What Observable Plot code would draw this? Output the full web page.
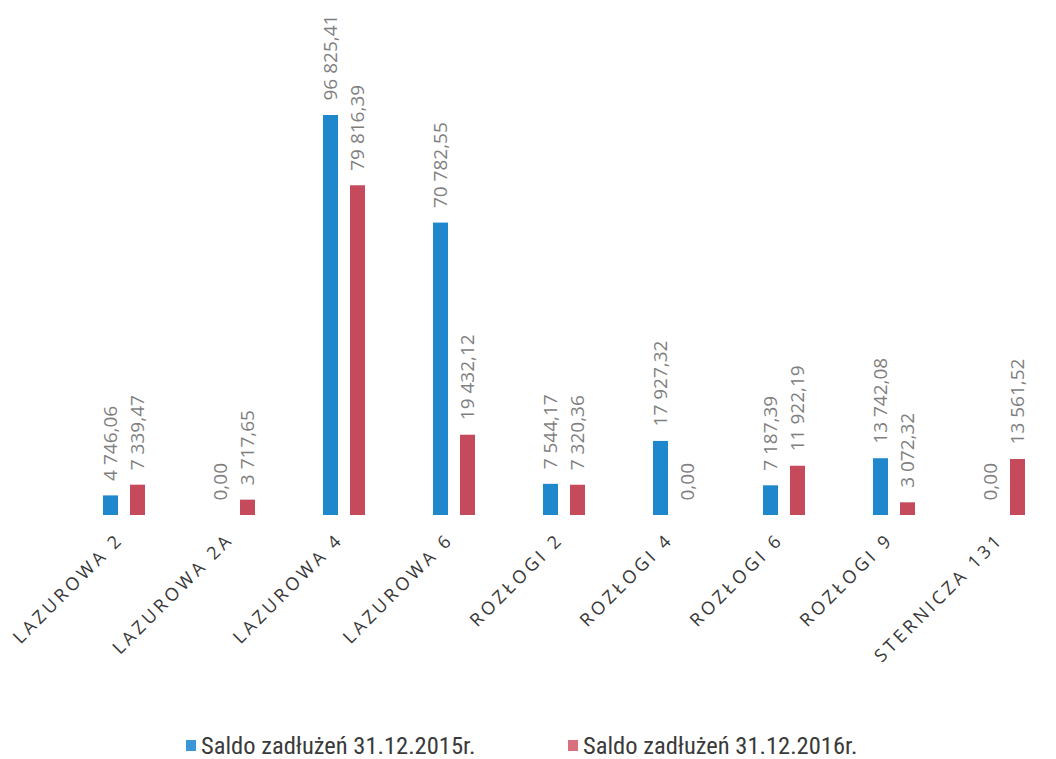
<!DOCTYPE html>
<html>
<head>
<meta charset="utf-8">
<script src="https://cdn.jsdelivr.net/npm/d3@7"></script>
<script src="https://cdn.jsdelivr.net/npm/@observablehq/plot@0.6"></script>
<style>
  html, body { margin: 0; padding: 0; background: #fff; }
  #chart { position: relative; width: 1056px; height: 759px; }
  .legend { position: absolute; top: 731px; left: 0; width: 1056px; height: 28px;
            font-family: "Liberation Sans Narrow", "Roboto Condensed", "Open Sans", sans-serif;
            font-size: 24.5px; color: #3a3a3a; }
  .legend .item { position: absolute; top: 0; display: flex; align-items: center; white-space: nowrap; }
  .legend .sw { width: 10px; height: 11px; margin-right: 5px; display: inline-block; }
</style>
</head>
<body>
<div id="chart"></div>
<script>
const categories = ["LAZUROWA 2", "LAZUROWA 2A", "LAZUROWA 4", "LAZUROWA 6", "ROZŁOGI 2", "ROZŁOGI 4", "ROZŁOGI 6", "ROZŁOGI 9", "STERNICZA 131"];
const seriesNames = ["Saldo zadłużeń 31.12.2015r.", "Saldo zadłużeń 31.12.2016r."];
const values2015 = [4746.06, 0.00, 96825.41, 70782.55, 7544.17, 17927.32, 7187.39, 13742.08, 0.00];
const values2016 = [7339.47, 3717.65, 79816.39, 19432.12, 7320.36, 0.00, 11922.19, 3072.32, 13561.52];
const barColors = ["#1f87cb", "#c44a5c"];
const legendColors = ["#3a96d8", "#d8707e"];

const data = [];
categories.forEach((c, i) => {
  data.push({cat: c, series: seriesNames[0], value: values2015[i]});
  data.push({cat: c, series: seriesNames[1], value: values2016[i]});
});

const fmt = v => {
  const [intPart, dec] = v.toFixed(2).split(".");
  const withSpaces = intPart.replace(/\B(?=(\d{3})+(?!\d))/g, " ");
  return withSpaces + "," + dec;
};

const chart = Plot.plot({
  width: 1056,
  height: 710,
  marginLeft: 69,
  marginRight: -3,
  marginTop: 115,
  marginBottom: 195,
  style: {fontFamily: "'Open Sans', sans-serif", background: "transparent"},
  fx: {domain: categories, padding: 0, label: null, axis: null},
  x: {domain: seriesNames, paddingInner: 0.43, paddingOuter: 1.18, axis: null},
  y: {domain: [0, 96825.41], axis: null},
  color: {domain: seriesNames, range: barColors},
  marks: [
    Plot.barY(data, {fx: "cat", x: "series", y: "value", fill: "series"}),
    Plot.text(data, {
      fx: "cat", x: "series", y: "value", text: d => fmt(d.value),
      rotate: -90, textAnchor: "start", dy: -15, fontSize: 19, fill: "#7f7f7f"
    }),
    Plot.axisFx({
      anchor: "bottom", tickSize: 0, tickPadding: 21, tickRotate: -45, dx: -4,
      fontSize: 18, fill: "#383838", label: null
    })
  ]
});

document.getElementById("chart").appendChild(chart);

chart.querySelectorAll('[aria-label="fx-axis tick label"] text').forEach(t => {
  t.style.letterSpacing = "3.5px";
});

const legend = document.createElement("div");
legend.className = "legend";
const lefts = [186, 568];
seriesNames.forEach((s, i) => {
  const item = document.createElement("div");
  item.className = "item";
  item.style.left = lefts[i] + "px";
  const sw = document.createElement("span");
  sw.className = "sw";
  sw.style.background = legendColors[i];
  const tx = document.createElement("span");
  tx.textContent = s;
  item.appendChild(sw);
  item.appendChild(tx);
  legend.appendChild(item);
});
document.getElementById("chart").appendChild(legend);
</script>
</body>
</html>
